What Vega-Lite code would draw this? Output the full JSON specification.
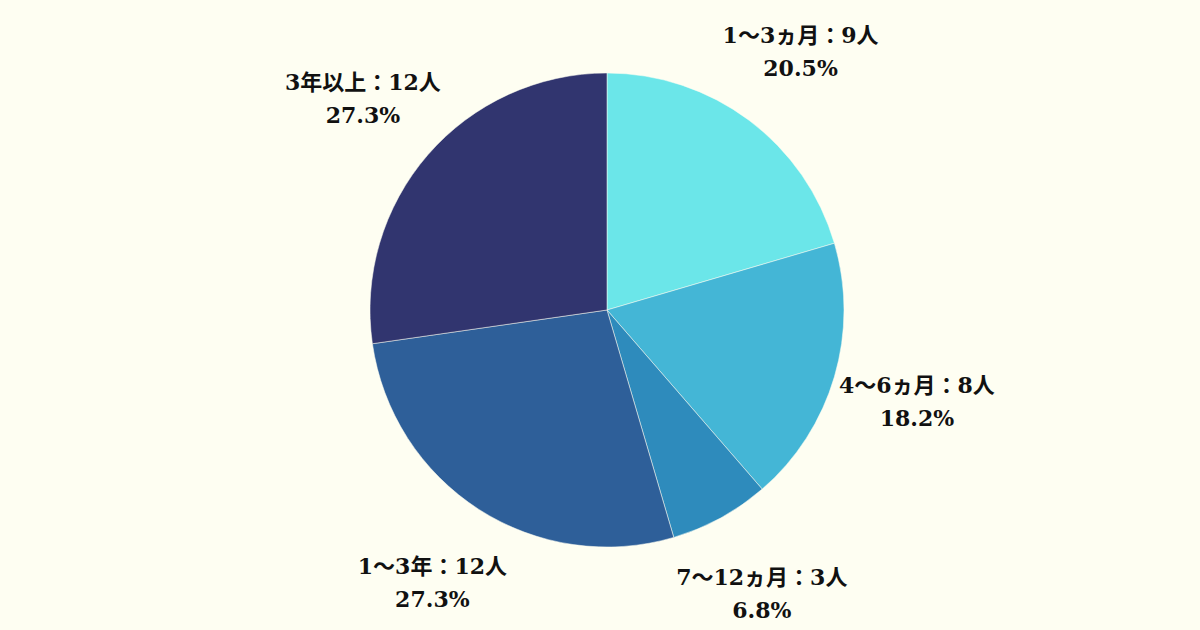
{
  "$schema": "https://vega.github.io/schema/vega-lite/v6.json",
  "width": 1186,
  "height": 620,
  "autosize": {"type": "none"},
  "padding": {"left": 14, "top": 0, "right": 0, "bottom": 10},
  "background": "#FEFEF2",
  "config": {"view": {"stroke": null}},
  "data": {
    "values": [
      {"n": 1, "category": "1～3ヵ月", "count": 9, "pct": "20.5%"},
      {"n": 2, "category": "4～6ヵ月", "count": 8, "pct": "18.2%"},
      {"n": 3, "category": "7～12ヵ月", "count": 3, "pct": "6.8%"},
      {"n": 4, "category": "1～3年", "count": 12, "pct": "27.3%"},
      {"n": 5, "category": "3年以上", "count": 12, "pct": "27.3%"}
    ]
  },
  "transform": [
    {"calculate": "datum.category + '：' + datum.count + '人\\n' + datum.pct", "as": "label"}
  ],
  "encoding": {
    "theta": {"field": "count", "type": "quantitative", "stack": true},
    "order": {"field": "n", "type": "quantitative"}
  },
  "layer": [
    {
      "mark": {"type": "arc", "outerRadius": 237, "stroke": "#FEFEF2", "strokeWidth": 0.5},
      "encoding": {
        "color": {
          "field": "category",
          "type": "nominal",
          "sort": null,
          "scale": {
            "domain": ["1～3ヵ月", "4～6ヵ月", "7～12ヵ月", "1～3年", "3年以上"],
            "range": ["#6BE6E9", "#44B6D6", "#2E8BBC", "#2E5F99", "#31356F"]
          },
          "legend": null
        }
      }
    },
    {
      "mark": {
        "type": "text",
        "radius": 323,
        "dy": -15,
        "font": "DejaVu Serif, Noto Sans CJK JP",
        "fontWeight": "bold",
        "fontSize": 22,
        "lineHeight": 33,
        "lineBreak": "\n",
        "align": "center",
        "baseline": "middle",
        "color": "#111111"
      },
      "encoding": {
        "text": {"field": "label", "type": "nominal"}
      }
    }
  ]
}
